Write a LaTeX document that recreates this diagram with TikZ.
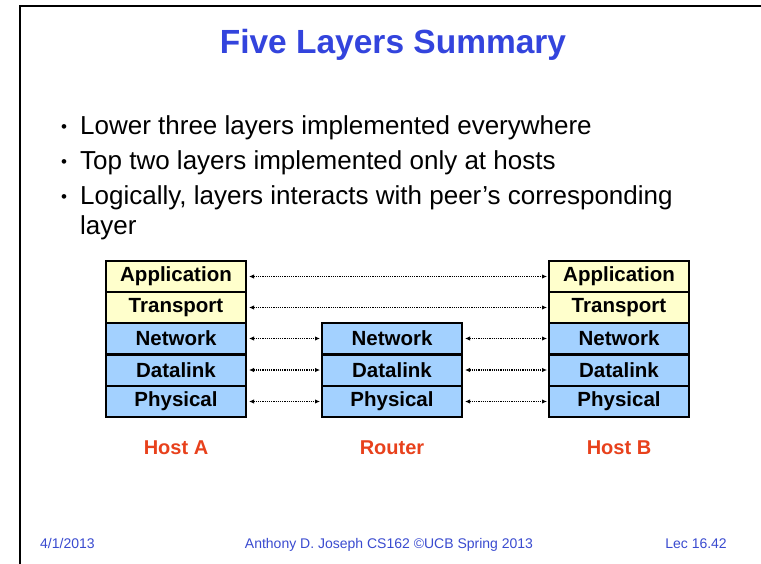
\documentclass[tikz,border=0pt]{standalone}
\usepackage{fontspec}
\setmainfont{Liberation Sans}
\usetikzlibrary{arrows.meta}
\definecolor{titleblue}{HTML}{3344DD}
\definecolor{footblue}{HTML}{3A4BD0}
\definecolor{hostred}{HTML}{E8411C}
\definecolor{upfill}{HTML}{FFFFCC}
\definecolor{lowfill}{HTML}{A3D1FF}
\tikzset{
  layer/.style={draw=black, line width=2pt, minimum width=140pt, minimum height=31pt,
    inner sep=0pt, font=\fontsize{20.5}{24}\selectfont\bfseries},
  upper/.style={layer, fill=upfill},
  lower/.style={layer, fill=lowfill},
  peer/.style={densely dotted, line width=1.2pt,
    {Latex[length=5pt,width=4.5pt]}-{Latex[length=5pt,width=4.5pt]},
    shorten <=2pt, shorten >=1pt},
  hostlbl/.style={text=hostred, font=\fontsize{20}{24}\selectfont\bfseries, inner sep=0pt, anchor=base},
  bullettext/.style={anchor=base west, inner sep=0pt, font=\fontsize{26}{30}\selectfont},
  bulletdot/.style={anchor=base, inner sep=0pt, font=\fontsize{17}{20}\selectfont},
  foot/.style={text=footblue, inner sep=0pt, font=\fontsize{14}{17}\selectfont}
}
\begin{document}
\begin{tikzpicture}[x=1pt,y=-1pt]
\useasboundingbox (0,0) rectangle (761,564);
\fill[white] (0,0) rectangle (761,564);
% frame
\draw[line width=2.5pt] (20,564) -- (20,6) -- (761,6);
% title
\node[anchor=base, inner sep=0pt, text=titleblue, font=\fontsize{33.5}{40}\selectfont\bfseries] (title) at (393,54) {Five Layers Summary};
% bullets
\node[bulletdot] (d1) at (64,133) {•};
\node[bullettext] (b1) at (80,135) {Lower three layers implemented everywhere};
\node[bulletdot] (d2) at (64,168) {•};
\node[bullettext] (b2) at (80,170) {Top two layers implemented only at hosts};
\node[bulletdot] (d3) at (64,203) {•};
\node[bullettext] (b3) at (80,205) {Logically, layers interacts with peer’s corresponding};
\node[bullettext] (b4) at (80,235) {layer};
% Host A
\node[upper] (aApp) at (176,276.5) {Application};
\node[upper] (aTr)  at (176,307.5) {Transport};
\node[lower] (aNet) at (176,338.5) {Network};
\node[lower] (aDl)  at (176,370) {Datalink};
\node[lower] (aPh)  at (176,401.5) {Physical};
% Router
\node[lower] (rNet) at (392,338.5) {Network};
\node[lower] (rDl)  at (392,370) {Datalink};
\node[lower] (rPh)  at (392,401.5) {Physical};
% Host B
\node[upper] (bApp) at (619,276.5) {Application};
\node[upper] (bTr)  at (619,307.5) {Transport};
\node[lower] (bNet) at (619,338.5) {Network};
\node[lower] (bDl)  at (619,370) {Datalink};
\node[lower] (bPh)  at (619,401.5) {Physical};
% peer arrows
\draw[peer] (aApp.east) -- (bApp.west);
\draw[peer] (aTr.east) -- (bTr.west);
\draw[peer] (aNet.east) -- (rNet.west);
\draw[peer] (aDl.east) -- (rDl.west);
\draw[peer] (aPh.east) -- (rPh.west);
\draw[peer] (rNet.east) -- (bNet.west);
\draw[peer] (rDl.east) -- (bDl.west);
\draw[peer] (rPh.east) -- (bPh.west);
% host labels
\node[hostlbl] (la) at (176,454) {Host A};
\node[hostlbl] (lr) at (392,454) {Router};
\node[hostlbl] (lb) at (619,454) {Host B};
% footer
\node[foot, anchor=base west] (f1) at (40,548) {4/1/2013};
\node[foot, anchor=base] (f2) at (389,548) {Anthony D. Joseph CS162 ©UCB Spring 2013};
\node[foot, anchor=base east] (f3) at (727,548) {Lec 16.42};
\end{tikzpicture}
\end{document}
